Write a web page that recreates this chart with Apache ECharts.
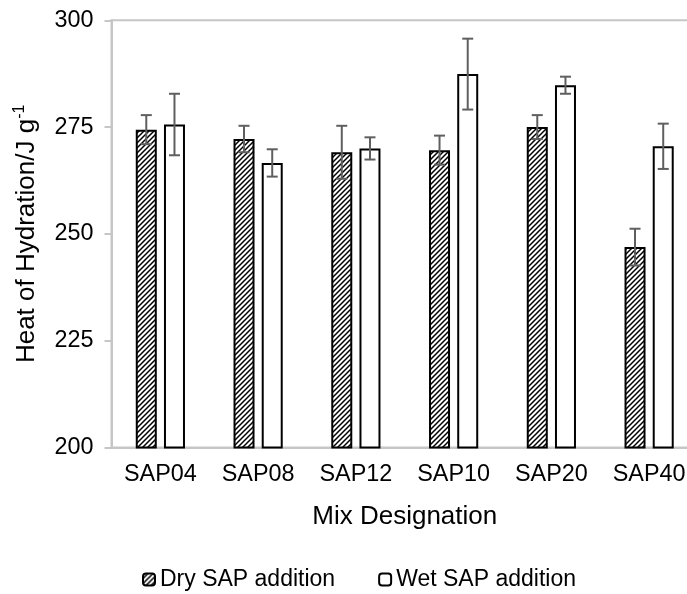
<!DOCTYPE html>
<html>
<head>
<meta charset="utf-8">
<script src="https://cdn.jsdelivr.net/npm/echarts@6/dist/echarts.min.js"></script>
<style>
html,body{margin:0;padding:0;background:#fff;}
#chart{width:687px;height:594px;}
</style>
</head>
<body>
<div id="chart"></div>
<script>
const categories = ['SAP04', 'SAP08', 'SAP12', 'SAP10', 'SAP20', 'SAP40'];
const dryValues = [274.4, 272.2, 269.1, 269.6, 275.0, 246.9];
const dryErrors = [3.4, 3.1, 6.2, 3.4, 2.8, 4.3];
const wetValues = [275.6, 266.6, 270.0, 287.4, 284.8, 270.5];
const wetErrors = [7.2, 3.2, 2.6, 8.3, 2.0, 5.3];
const yTicks = [200, 225, 250, 275, 300];
const seriesNames = ['Dry SAP addition', 'Wet SAP addition'];

const FONT = '"Liberation Sans", Arial, sans-serif';
const BAR_W = 21;
const BAR_GAP_PX = 7.2;
const OFFSET = (BAR_W + BAR_GAP_PX) / 2;

// hatch pattern
const P = 5;
const pc = document.createElement('canvas');
pc.width = P; pc.height = P;
const ctx = pc.getContext('2d');
ctx.fillStyle = '#fff';
ctx.fillRect(0, 0, P, P);
ctx.strokeStyle = '#000';
ctx.lineWidth = 1.5;
ctx.beginPath();
ctx.moveTo(-1, P + 1); ctx.lineTo(P + 1, -1);
ctx.moveTo(-1, 1); ctx.lineTo(1, -1);
ctx.moveTo(P - 1, P + 1); ctx.lineTo(P + 1, P - 1);
ctx.stroke();

const chart = echarts.init(document.getElementById('chart'), null, {renderer: 'canvas'});

function errData(vals, errs) {
  return vals.map((v, i) => [i, v, errs[i]]);
}

function errRender(offset) {
  return function (params, api) {
    const i = api.value(0), m = api.value(1), e = api.value(2);
    const x = api.coord([i, m])[0] + offset;
    const yt = api.coord([i, m + e])[1];
    const yb = api.coord([i, m - e])[1];
    const cap = 5.5;
    const style = {stroke: '#5f5f5f', lineWidth: 2, fill: null};
    return {
      type: 'group',
      children: [
        {type: 'line', shape: {x1: x, y1: yt, x2: x, y2: yb}, style: style},
        {type: 'line', shape: {x1: x - cap, y1: yt, x2: x + cap, y2: yt}, style: style},
        {type: 'line', shape: {x1: x - cap, y1: yb, x2: x + cap, y2: yb}, style: style}
      ]
    };
  };
}

const option = {
  animation: false,
  backgroundColor: '#fff',
  textStyle: {fontFamily: FONT},
  grid: {
    left: 111.5, top: 20.3, height: 427.1, width: 586.5,
    outerBoundsMode: 'none',
    show: true, borderColor: '#c6c6c6', borderWidth: 2, backgroundColor: 'transparent',
    containLabel: false
  },
  legend: {
    data: seriesNames,
    left: 137, top: 563,
    itemWidth: 12, itemHeight: 12, itemGap: 43,
    textStyle: {fontSize: 23, color: '#000', fontFamily: FONT}
  },
  xAxis: {
    type: 'category',
    data: categories,
    axisLine: {show: true, lineStyle: {color: '#c6c6c6', width: 2}},
    axisTick: {show: false},
    axisLabel: {fontSize: 23.4, color: '#000', margin: 16, fontFamily: FONT},
    name: 'Mix Designation',
    nameLocation: 'middle',
    nameGap: 56,
    nameTextStyle: {fontSize: 26, color: '#000', fontFamily: FONT}
  },
  yAxis: {
    type: 'value',
    min: yTicks[0], max: yTicks[yTicks.length - 1], interval: 25,
    axisLine: {show: true, lineStyle: {color: '#c6c6c6', width: 2}},
    axisTick: {show: true, inside: false, length: 7, lineStyle: {color: '#c6c6c6', width: 2}},
    splitLine: {show: false},
    axisLabel: {fontSize: 23.4, color: '#000', margin: 18, fontFamily: FONT},
    name: '{t|Heat of Hydration/J g}{s|-1}',
    nameLocation: 'middle',
    nameGap: 70,
    nameTextStyle: {
      color: '#000', fontFamily: FONT, fontSize: 26,
      rich: {
        t: {fontSize: 26, color: '#000', fontFamily: FONT, lineHeight: 30},
        s: {fontSize: 16, color: '#000', fontFamily: FONT, verticalAlign: 'top', lineHeight: 30, padding: [0, 0, 10, 0]}
      }
    }
  },
  series: [
    {
      name: seriesNames[0], type: 'bar', data: dryValues,
      barWidth: BAR_W, barGap: (BAR_GAP_PX / BAR_W * 100) + '%',
      itemStyle: {color: {image: pc, repeat: 'repeat'}, borderColor: '#000', borderWidth: 2},
      z: 2
    },
    {
      name: seriesNames[1], type: 'bar', data: wetValues,
      barWidth: BAR_W,
      itemStyle: {color: '#fff', borderColor: '#000', borderWidth: 2},
      z: 2
    },
    {
      name: 'dryErr', type: 'custom', data: errData(dryValues, dryErrors),
      encode: {x: 0, y: 1}, renderItem: errRender(-OFFSET), z: 5, silent: true
    },
    {
      name: 'wetErr', type: 'custom', data: errData(wetValues, wetErrors),
      encode: {x: 0, y: 1}, renderItem: errRender(OFFSET), z: 5, silent: true
    }
  ]
};
chart.setOption(option);
</script>
</body>
</html>
